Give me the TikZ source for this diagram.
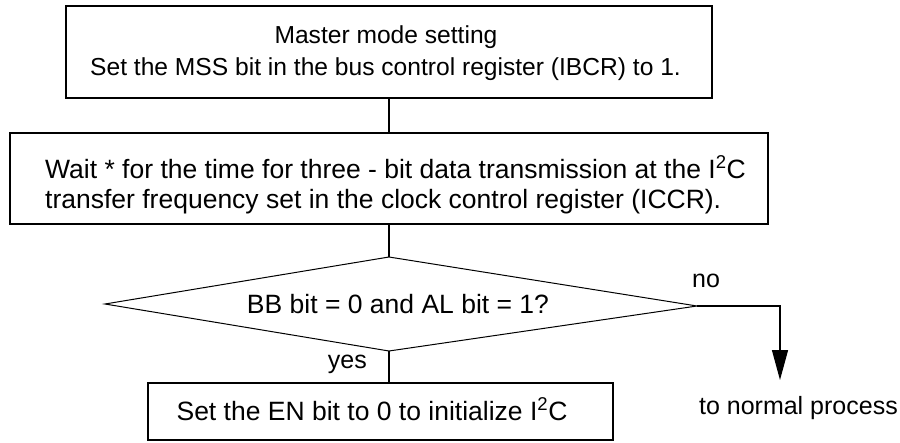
\documentclass[tikz,border=0pt]{standalone}
\usepackage{fontspec}
\setmainfont{Liberation Sans}
\usetikzlibrary{arrows.meta}
\begin{document}
\begin{tikzpicture}[x=1pt,y=-1pt,
  box/.style={draw,line width=1.5pt,inner sep=0pt},
  lbl/.style={inner sep=0pt,font=\fontsize{25}{30}\selectfont},
  lblA/.style={inner sep=0pt,font=\fontsize{24.6}{30}\selectfont},
  lblB/.style={inner sep=0pt,font=\fontsize{26.5}{30}\selectfont},
  conn/.style={line width=1.3pt},
  dia/.style={line width=1pt}]
\useasboundingbox (0,0) rectangle (900,442);
% boxes
\node[box, minimum width=646pt, minimum height=92pt] (top) at (389,52) {};
\node[box, minimum width=758pt, minimum height=91pt] (wait) at (389,178.5) {};
\node[box, minimum width=465pt, minimum height=57pt] (init) at (380.5,411.5) {};
% texts
\node[lblA, anchor=base] (t1) at (386,43) {Master mode setting};
\node[lblA, anchor=base west] (t2) at (90,75) {Set the MSS bit in the bus control register (IBCR) to 1.};
\node[lblB, anchor=base west] (w1) at (45,178) {Wait * for the time for three - bit data transmission at the I\textsuperscript{2}C};
\node[lblB, anchor=base west] (w2) at (45,208) {transfer frequency set in the clock control register (ICCR).};
\node[lblB, anchor=base] (i1) at (372,420) {Set the EN bit to 0 to initialize I\textsuperscript{2}C};
% diamond
\coordinate (dT) at (389,257);
\coordinate (dR) at (697,306);
\coordinate (dB) at (389,351);
\coordinate (dL) at (105,304);
\draw[dia] (dL) -- (dT) -- (dR) -- (dB) -- cycle;
\node[lblB, anchor=base] (q) at (398,313) {BB bit = 0 and AL bit = 1?};
% labels
\node[lbl, anchor=base east] (yes) at (367,368) {yes};
\node[lbl, anchor=base west] (no) at (692,287) {no};
\node[lbl, anchor=base east] (np) at (898,414) {to normal process};
\coordinate (npa) at (780,380);
% connectors
\draw[conn] (top.south) -- (wait.north);
\draw[conn] (wait.south) -- (dT);
\draw[conn] (dB) -- (dB |- init.north);
\draw[conn, -{Triangle[length=30pt,width=16pt]}] (dR) -| (npa);
\end{tikzpicture}
\end{document}
